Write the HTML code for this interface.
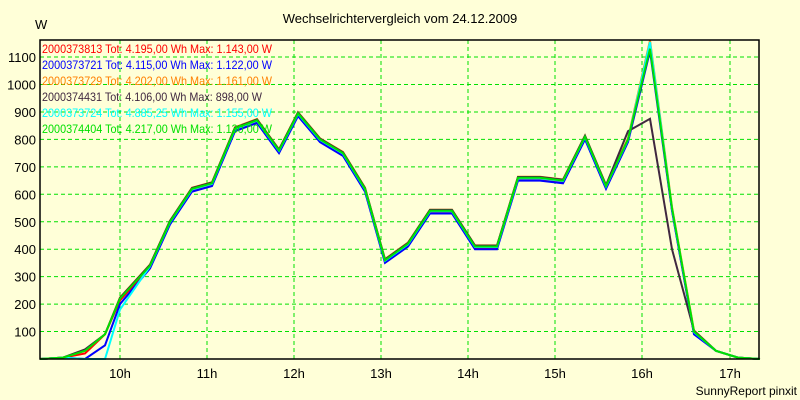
<!DOCTYPE html><html><head><style>body{margin:0;background:#ffffd8}svg{display:block;font-family:"Liberation Sans",sans-serif}</style></head><body>
<svg id="s" width="800" height="400" xmlns="http://www.w3.org/2000/svg">
<rect width="800" height="400" fill="#ffffd8"/>
<text x="400" y="23" font-size="13" text-anchor="middle">Wechselrichtervergleich vom 24.12.2009</text>
<text x="35" y="29" font-size="13">W</text>
<g id="grid" stroke="#00e000" stroke-dasharray="4,3" stroke-width="1"></g>
<g id="yl" font-size="13" text-anchor="end"></g>
<g id="xl" font-size="13" text-anchor="middle"></g>
<g id="ser" fill="none" stroke-width="2"></g>
<rect x="40" y="40" width="719" height="319" fill="none" stroke="#000" stroke-width="1.5"/>
<g font-size="12" lengthAdjust="spacingAndGlyphs">
<text x="42" y="53" fill="#ff0000" textLength="230" lengthAdjust="spacingAndGlyphs">2000373813 Tot: 4.195,00 Wh Max: 1.143,00 W</text>
<text x="42" y="69" fill="#0000ff" textLength="230" lengthAdjust="spacingAndGlyphs">2000373721 Tot: 4.115,00 Wh Max: 1.122,00 W</text>
<text x="42" y="85" fill="#ff8000" textLength="230" lengthAdjust="spacingAndGlyphs">2000373729 Tot: 4.202,00 Wh Max: 1.161,00 W</text>
<text x="42" y="101" fill="#402840" textLength="220" lengthAdjust="spacingAndGlyphs">2000374431 Tot: 4.106,00 Wh Max: 898,00 W</text>
<text x="42" y="117" fill="#00ffff" textLength="230" lengthAdjust="spacingAndGlyphs">2000373724 Tot: 4.885,25 Wh Max: 1.155,00 W</text>
<text x="42" y="133" fill="#00e000" textLength="230" lengthAdjust="spacingAndGlyphs">2000374404 Tot: 4.217,00 Wh Max: 1.130,00 W</text>
</g>
<text x="797" y="395" font-size="12" text-anchor="end">SunnyReport pinxit</text>
</svg>
<script>
const NS="http://www.w3.org/2000/svg";
function el(p,t,a,tx){const e=document.createElementNS(NS,t);for(const k in a)e.setAttribute(k,a[k]);if(tx)e.textContent=tx;document.getElementById(p).appendChild(e);}
const Y=v=>359-v*0.2745;
for(let v=100;v<=1100;v+=100){el("grid","line",{x1:40,x2:759,y1:Y(v),y2:Y(v)});el("yl","text",{x:36,y:Y(v)+5},String(v));}
const hx=[120,207,294,381,468,555,642,730];
hx.forEach((x,i)=>{el("grid","line",{x1:x,x2:x,y1:40,y2:359});el("xl","text",{x:x,y:378},(10+i)+"h");});
const xs=[40,63,85,105,120,150,170,192,212,235,257,279,298,320,343,365,385,408,430,452,475,497,518,540,563,585,606,628,650,672,694,716,738,760];
const base=[0,5,30,90,220,340,500,620,640,840,870,760,895,800,750,620,360,420,540,540,410,410,660,660,650,810,630,800,1130,550,100,30,5,0];
function s(col,mod,off){const pts=xs.map((x,i)=>{let v=base[i]+(off||0)*(i>3&&i<31?1:0);if(mod&&mod[i]!==undefined)v=mod[i];return x+","+Y(Math.max(0,v)).toFixed(1)});el("ser","polyline",{points:pts.join(" "),stroke:col});}
s("#ff0000",{2:20,28:1143},-6);
s("#0000ff",{2:0,3:50,4:200,28:1122},-10);
s("#ff8000",{28:1161},4);
s("#402840",{2:35,27:830,28:875,29:400},3);
s("#00ffff",{2:0,3:0,4:180,28:1155},-2);
s("#00e000",{28:1130},0);
</script>
</body></html>
